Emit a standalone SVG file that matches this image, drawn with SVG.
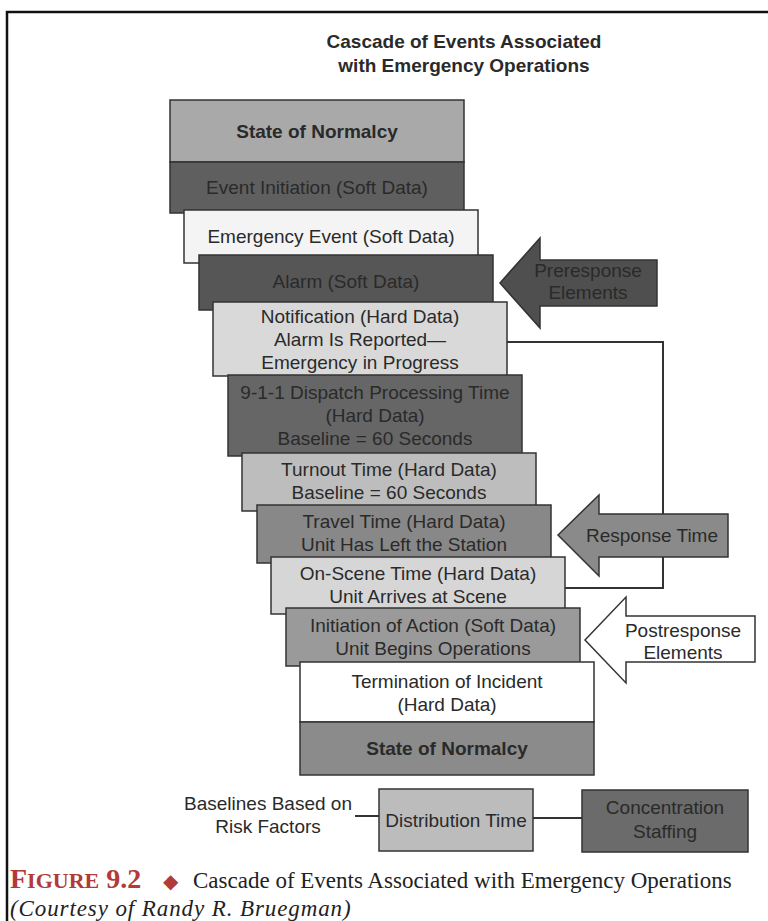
<svg xmlns="http://www.w3.org/2000/svg" width="768" height="921" viewBox="0 0 768 921">
<style>
.t{font-family:"Liberation Sans",Arial,sans-serif;font-size:19px;text-anchor:middle;fill:#2a2a2a}
.b{font-weight:bold}
.box{stroke:#333;stroke-width:1.5}
.ln{fill:none;stroke:#333;stroke-width:2}
.cap{font-family:"Liberation Serif","Times New Roman",serif;font-size:23px;fill:#222}
</style>
<rect width="768" height="921" fill="#fff"/>
<path d="M7,921 V12 H768" fill="none" stroke="#111" stroke-width="2.5"/>
<g id="title">
<text class="t b" x="464" y="48" fill="#222" font-size="19.5">Cascade of Events Associated</text>
<text class="t b" x="464" y="72" fill="#222" font-size="19.5">with Emergency Operations</text>
</g>
<g id="connectors">
<polyline class="ln" points="507,342 663,342 663,588 565,588"/>
<line class="ln" x1="355" y1="816" x2="379" y2="816"/>
<line class="ln" x1="533" y1="818" x2="582" y2="818"/>
</g>
<g id="n-normalcy-top">
<rect class="box" x="170" y="100" width="294" height="62" fill="#a9a9a9"/>
<text class="t b" x="317" y="138" fill="#222">State of Normalcy</text>
</g>
<g id="n-event-initiation">
<rect class="box" x="170" y="162" width="294" height="51" fill="#5f5f5f"/>
<text class="t" x="317" y="194" fill="#303030">Event Initiation (Soft Data)</text>
</g>
<g id="n-emergency-event">
<rect class="box" x="184" y="210" width="294" height="53" fill="#f4f4f4"/>
<text class="t" x="331" y="243" fill="#222">Emergency Event (Soft Data)</text>
</g>
<g id="n-alarm">
<rect class="box" x="199" y="255" width="294" height="55" fill="#565656"/>
<text class="t" x="346" y="288" fill="#383838">Alarm (Soft Data)</text>
</g>
<g id="n-notification">
<rect class="box" x="213" y="302" width="294" height="74" fill="#d9d9d9"/>
<text class="t" x="360" y="323" fill="#1e1e1e">Notification (Hard Data)</text>
<text class="t" x="360" y="346" fill="#1e1e1e">Alarm Is Reported—</text>
<text class="t" x="360" y="369" fill="#1e1e1e">Emergency in Progress</text>
</g>
<g id="n-dispatch">
<rect class="box" x="228" y="375" width="294" height="81" fill="#666"/>
<text class="t" x="375" y="399" fill="#363636">9-1-1 Dispatch Processing Time</text>
<text class="t" x="375" y="422" fill="#363636">(Hard Data)</text>
<text class="t" x="375" y="445" fill="#363636">Baseline = 60 Seconds</text>
</g>
<g id="n-turnout">
<rect class="box" x="242" y="453" width="294" height="58" fill="#bdbdbd"/>
<text class="t" x="389" y="476" fill="#2e2e2e">Turnout Time (Hard Data)</text>
<text class="t" x="389" y="499" fill="#2e2e2e">Baseline = 60 Seconds</text>
</g>
<g id="n-travel">
<rect class="box" x="257" y="505" width="294" height="58" fill="#888"/>
<text class="t" x="404" y="528" fill="#222">Travel Time (Hard Data)</text>
<text class="t" x="404" y="551" fill="#222">Unit Has Left the Station</text>
</g>
<g id="n-onscene">
<rect class="box" x="271" y="557" width="294" height="57" fill="#d6d6d6"/>
<text class="t" x="418" y="580" fill="#1e1e1e">On-Scene Time (Hard Data)</text>
<text class="t" x="418" y="603" fill="#1e1e1e">Unit Arrives at Scene</text>
</g>
<g id="n-initiation">
<rect class="box" x="286" y="608" width="294" height="58" fill="#9a9a9a"/>
<text class="t" x="433" y="632" fill="#2a2a2a">Initiation of Action (Soft Data)</text>
<text class="t" x="433" y="655" fill="#2a2a2a">Unit Begins Operations</text>
</g>
<g id="n-termination">
<rect class="box" x="300" y="662" width="294" height="60" fill="#fff"/>
<text class="t" x="447" y="688" fill="#3a3a3a">Termination of Incident</text>
<text class="t" x="447" y="711" fill="#3a3a3a">(Hard Data)</text>
</g>
<g id="n-normalcy-bottom">
<rect class="box" x="300" y="722" width="294" height="53" fill="#8b8b8b"/>
<text class="t b" x="447" y="755" fill="#1e1e1e">State of Normalcy</text>
</g>
<g id="a-preresponse">
<polygon class="box" points="500,283 540,238 540,260 657,260 657,306 540,306 540,328" fill="#4f4f4f"/>
<text class="t" x="588" y="277" fill="#888">Preresponse</text>
<text class="t" x="588" y="299" fill="#888">Elements</text>
</g>
<g id="a-response">
<polygon class="box" points="558,535 599,495 599,514 728,514 728,557 599,557 599,576" fill="#8a8a8a"/>
<text class="t" x="652" y="542" fill="#222">Response Time</text>
</g>
<g id="a-postresponse">
<polygon class="box" points="585,640 626,597 626,616 755,616 755,662 626,662 626,683" fill="#fff"/>
<text class="t" x="683" y="637" fill="#333">Postresponse</text>
<text class="t" x="683" y="659" fill="#333">Elements</text>
</g>
<g id="n-baselines">
<text class="t" x="268" y="810" fill="#333">Baselines Based on</text>
<text class="t" x="268" y="833" fill="#333">Risk Factors</text>
</g>
<g id="n-distribution">
<rect class="box" x="379" y="789" width="154" height="62" fill="#bcbcbc"/>
<text class="t" x="456" y="827" fill="#2a2a2a">Distribution Time</text>
</g>
<g id="n-concentration">
<rect class="box" x="582" y="790" width="166" height="62" fill="#6b6b6b"/>
<text class="t" x="665" y="814" fill="#333">Concentration</text>
<text class="t" x="665" y="838" fill="#333">Staffing</text>
</g>
<g id="caption">
<text class="cap" x="10" y="888"><tspan fill="#b23a3a" font-weight="bold" font-size="28">F<tspan font-size="22">IGURE</tspan> 9.2</tspan><tspan x="163" fill="#b23a3a" font-size="20">◆</tspan><tspan x="193">Cascade of Events Associated with Emergency Operations</tspan></text>
<text class="cap" x="10" y="916" font-style="italic" font-size="22" letter-spacing="0.9">(Courtesy of Randy R. Bruegman)</text>
</g>
</svg>
